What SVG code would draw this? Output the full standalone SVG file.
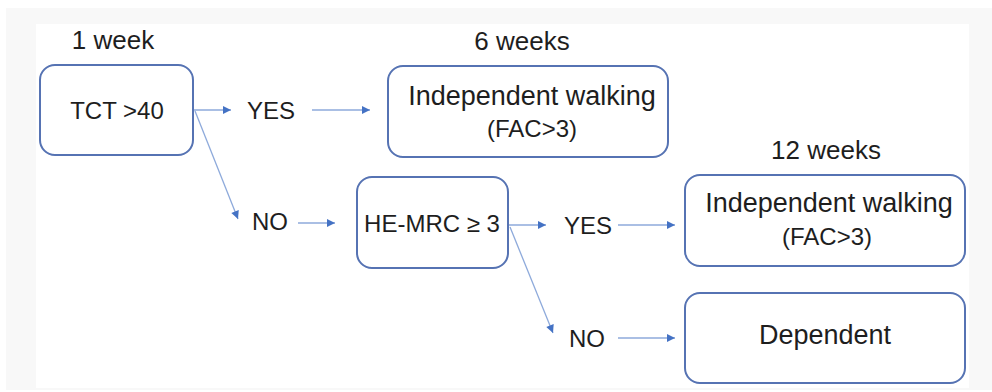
<svg xmlns="http://www.w3.org/2000/svg" width="992" height="392" viewBox="0 0 992 392">
<style>
  .box{fill:#ffffff;stroke:#5673b3;stroke-width:2}
  .t{font-family:"Liberation Sans",Arial,sans-serif;fill:#1e1e1e;text-anchor:middle}
  .cap{font-size:24px}
  .low{font-size:26px}
  .big{font-size:27px}
  .conn line{stroke:#8eaadb;stroke-width:1.3;fill:none;marker-end:url(#ah)}
</style>
<defs>
  <marker id="ah" viewBox="0 0 10 10" refX="10" refY="5" markerWidth="10" markerHeight="8" markerUnits="userSpaceOnUse" orient="auto">
    <path d="M0,0 L10,5 L0,10 z" fill="#4472c4"/>
  </marker>
</defs>
<rect x="0" y="0" width="992" height="392" fill="#ffffff"/>
<rect x="6" y="8" width="986" height="382" fill="#f8f8f8"/>
<rect x="36" y="24" width="933" height="364" fill="#ffffff"/>

<text class="t low" x="113" y="49">1 week</text>
<text class="t low" x="522" y="50">6 weeks</text>
<text class="t low" x="826" y="159">12 weeks</text>

<g id="tct">
  <rect class="box" x="40" y="65" width="153" height="90" rx="15"/>
  <text class="t cap" x="117" y="119">TCT &gt;40</text>
</g>
<g id="yes1">
  <text class="t cap" x="271" y="119">YES</text>
</g>
<g id="walk6">
  <rect class="box" x="388" y="66" width="280" height="91" rx="15"/>
  <text class="t big" x="532" y="105">Independent walking</text>
  <text class="t cap" x="532" y="137">(FAC&gt;3)</text>
</g>
<g id="no1">
  <text class="t cap" x="270" y="230">NO</text>
</g>
<g id="hemrc">
  <rect class="box" x="357" y="177" width="151" height="91" rx="15"/>
  <text class="t cap" x="432" y="232">HE-MRC ≥ 3</text>
</g>
<g id="yes2">
  <text class="t cap" x="588" y="234">YES</text>
</g>
<g id="no2">
  <text class="t cap" x="587" y="347">NO</text>
</g>
<g id="walk12">
  <rect class="box" x="685" y="175" width="280" height="91" rx="15"/>
  <text class="t big" x="829" y="212">Independent walking</text>
  <text class="t cap" x="827" y="245">(FAC&gt;3)</text>
</g>
<g id="dependent">
  <rect class="box" x="685" y="293" width="280" height="90" rx="15"/>
  <text class="t big" x="825" y="344">Dependent</text>
</g>

<g id="connectors" class="conn">
  <line x1="194" y1="110" x2="231" y2="110"/>
  <line x1="312" y1="110" x2="370" y2="110"/>
  <line x1="195" y1="111" x2="238" y2="219"/>
  <line x1="298" y1="223" x2="335" y2="223"/>
  <line x1="509" y1="225" x2="546" y2="225"/>
  <line x1="618" y1="225" x2="675" y2="225"/>
  <line x1="510" y1="227" x2="553" y2="333"/>
  <line x1="618" y1="338" x2="675" y2="338"/>
</g>
</svg>
